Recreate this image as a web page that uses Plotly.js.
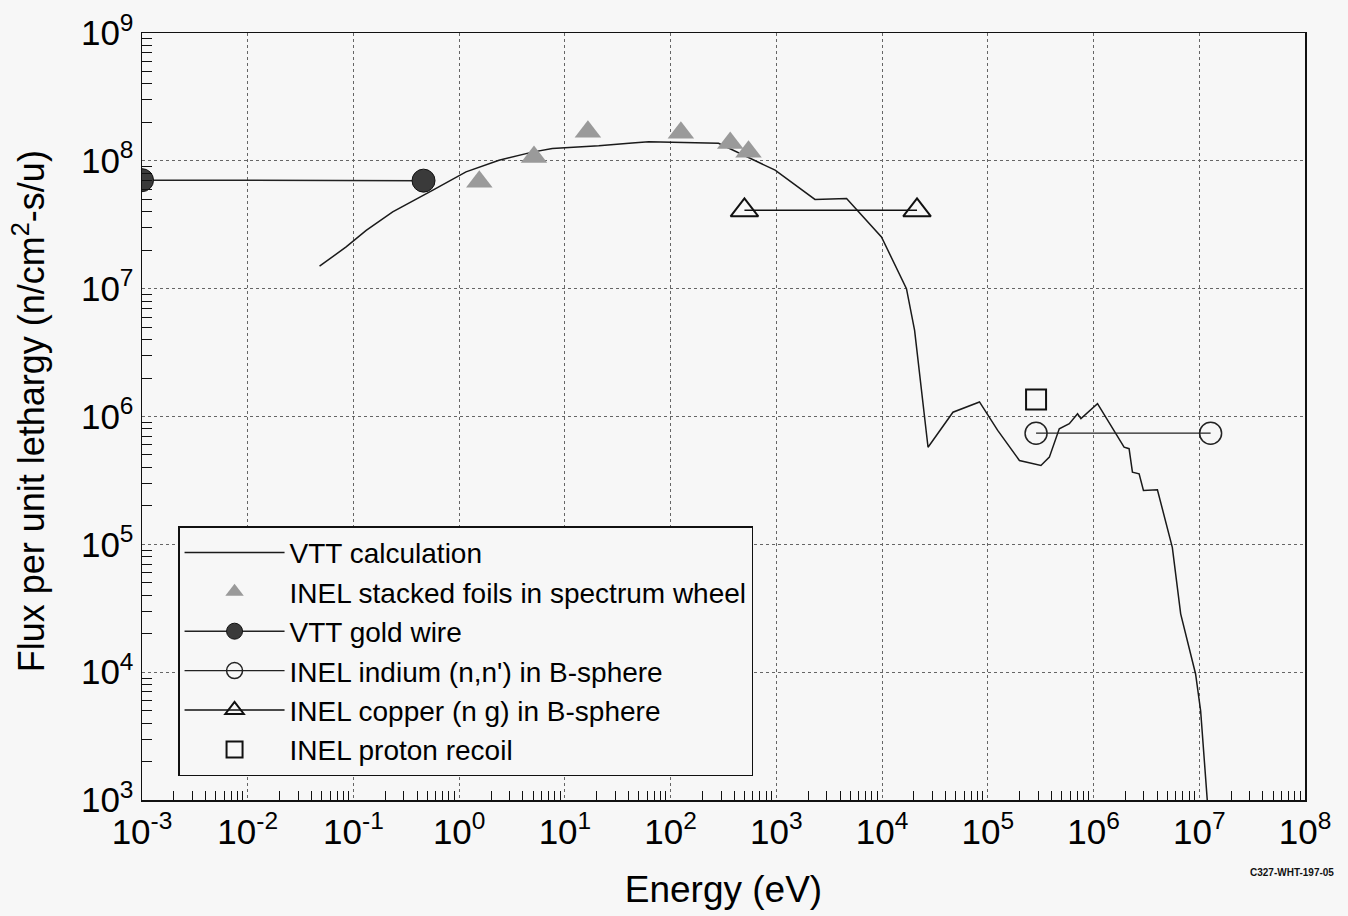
<!DOCTYPE html>
<html>
<head>
<meta charset="utf-8">
<script src="https://cdn.plot.ly/plotly-3.0.1.min.js"></script>
<style>html,body{margin:0;padding:0;background:#f7f7f7;}#chart{width:1348px;height:916px;}</style>
</head>
<body>
<div id="chart"></div>
<script>
// VTT calculation (energy in eV, flux per unit lethargy)
const calcE = [0.0478, 0.0853, 0.132, 0.235, 0.564, 1.16, 2.38, 4.92, 7.6, 20.9, 43.2, 62.0, 284, 630, 973, 2317, 4613, 9860, 17000, 20300, 27200, 46800, 83400, 124000, 199000, 318000, 382000, 474000, 590000, 706000, 760000, 1090000, 1566000, 1945000, 2168000, 2333000, 2698000, 2965000, 4018000, 5560000, 6670000, 9230000, 10300000, 11900000];
const calcF = [1.50e7, 2.12e7, 2.86e7, 3.99e7, 5.90e7, 8.20e7, 1.01e8, 1.17e8, 1.25e8, 1.31e8, 1.38e8, 1.41e8, 1.37e8, 1.01e8, 8.45e7, 4.99e7, 5.08e7, 2.54e7, 1.0e7, 4.72e6, 5.75e5, 1.08e6, 1.30e6, 7.78e5, 4.53e5, 4.14e5, 4.81e5, 8.02e5, 8.79e5, 1.05e6, 9.62e5, 1.26e6, 7.78e5, 5.75e5, 5.60e5, 3.67e5, 3.56e5, 2.64e5, 2.67e5, 9.48e4, 2.86e4, 9.68e3, 4.99e3, 1.0e3];
// INEL stacked foils in spectrum wheel
const foilE = [1.55, 5.1, 16.5, 125, 366, 545];
const foilF = [6.85e7, 1.07e8, 1.69e8, 1.66e8, 1.38e8, 1.18e8];
// VTT gold wire
const goldE = [0.001, 0.46];
const goldF = [7.06e7, 7.0e7];
// INEL indium (n,n') in B-sphere
const indE = [286000, 12800000];
const indF = [7.4e5, 7.4e5];
// INEL copper (n g) in B-sphere
const cuE = [499, 21400];
const cuF = [4.1e7, 4.1e7];
// INEL proton recoil
const prE = [286000];
const prF = [1.36e6];

const xDecades = [-3,-2,-1,0,1,2,3,4,5,6,7,8];
const xTickText = xDecades.map(d => '10<sup>' + d + '</sup>');
const yDecades = [3,4,5,6,7,8,9];
const yTickText = yDecades.map(d => '10<sup>' + d + '</sup>');

const minorX = [];
for (let d = -3; d < 8; d++) for (let m = 2; m <= 9; m++) minorX.push(m * Math.pow(10, d));
const minorY = [];
for (let d = 3; d < 9; d++) for (let m = 2; m <= 9; m++) minorY.push(m * Math.pow(10, d));

const traces = [
  {x: calcE, y: calcF, mode: 'lines', name: 'VTT calculation',
   line: {color: '#1a1a1a', width: 1.5}},
  {x: foilE, y: foilF, mode: 'markers', name: 'INEL stacked foils in spectrum wheel',
   marker: {symbol: 'triangle-up', size: 23, color: '#9a9a9a', line: {width: 0}}},
  {x: goldE, y: goldF, mode: 'lines+markers', name: 'VTT gold wire',
   line: {color: '#222', width: 1.5}, marker: {symbol: 'circle', size: 23, color: '#3a3a3a', line: {color: '#111', width: 1}}},
  {x: indE, y: indF, mode: 'lines+markers', name: "INEL indium (n,n') in B-sphere",
   line: {color: '#222', width: 1.2}, marker: {symbol: 'circle-open', size: 22, color: '#222', line: {width: 1.5}}},
  {x: cuE, y: cuF, mode: 'lines+markers', name: 'INEL copper (n g) in B-sphere',
   line: {color: '#111', width: 1.5}, marker: {symbol: 'triangle-up-open', size: 24, color: '#111', line: {width: 2}}},
  {x: prE, y: prF, mode: 'markers', name: 'INEL proton recoil',
   marker: {symbol: 'square-open', size: 20, color: '#111', line: {width: 2}}}
];

const font = 'Liberation Sans, Arial, Helvetica, sans-serif';
const layout = {
  width: 1348, height: 916,
  paper_bgcolor: '#f7f7f7', plot_bgcolor: '#f7f7f7',
  margin: {l: 142, r: 43, t: 33, b: 116},
  font: {family: font, color: '#000'},
  showlegend: true,
  legend: {x: 0.031, y: 0.357, xanchor: 'left', yanchor: 'top', bgcolor: '#f7f7f7',
           bordercolor: '#111', borderwidth: 1.5, font: {size: 28, family: font, color: '#000'}, itemwidth: 100,
           tracegroupgap: 0},
  xaxis: {type: 'log', range: [-3, 8], tickmode: 'array', tickvals: xDecades.map(d => Math.pow(10, d)),
          ticktext: xTickText, tickfont: {size: 35}, ticks: '', showline: true, mirror: true,
          linecolor: '#111', linewidth: 1.5, showgrid: true, gridcolor: '#666', griddash: 'dot', gridwidth: 1,
          zeroline: false, automargin: false,
          minor: {tickmode: 'array', tickvals: minorX, ticks: 'inside', ticklen: 9, tickcolor: '#111', tickwidth: 1, showgrid: false},
          title: {text: 'Energy (eV)', font: {size: 37}, standoff: 26}},
  yaxis: {type: 'log', range: [3, 9], tickmode: 'array', tickvals: yDecades.map(d => Math.pow(10, d)),
          ticktext: yTickText, tickfont: {size: 35}, ticks: '', showline: true, mirror: true,
          linecolor: '#111', linewidth: 1.5, showgrid: true, gridcolor: '#666', griddash: 'dot', gridwidth: 1,
          zeroline: false, automargin: false,
          minor: {tickmode: 'array', tickvals: minorY, ticks: 'inside', ticklen: 10, tickcolor: '#111', tickwidth: 1, showgrid: false},
          title: {text: ''}},
  annotations: [
    {text: 'Flux per unit lethargy (n/cm<sup>2</sup>-s/u)', xref: 'paper', yref: 'paper', x: -0.097, y: 0.507,
     xanchor: 'center', yanchor: 'middle', textangle: -90, showarrow: false, font: {size: 36, color: '#000'}},
    {text: '<b>C327-WHT-197-05</b>', xref: 'paper', yref: 'paper', x: 1.027, y: -0.094,
     xanchor: 'right', yanchor: 'middle', showarrow: false, font: {size: 10, color: '#111'}}
  ]
};

Plotly.newPlot('chart', traces, layout, {displayModeBar: false, staticPlot: true});
</script>
</body>
</html>
